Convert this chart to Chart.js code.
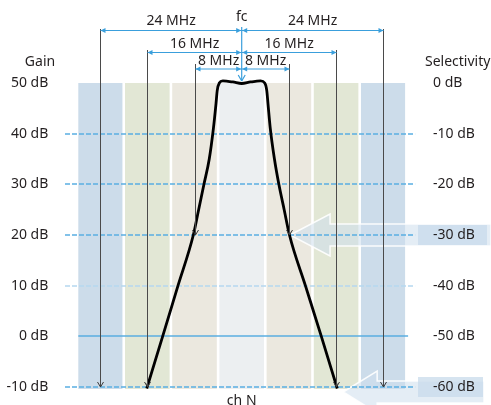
<!DOCTYPE html>
<html><head><meta charset="utf-8">
<script src="https://cdn.jsdelivr.net/npm/chart.js@4.4.0/dist/chart.umd.min.js"></script>
<style>html,body{margin:0;padding:0;background:#fff;}#wrap{width:491px;height:405px;}</style>
</head><body><div id="wrap"><canvas id="c" width="491" height="405"></canvas></div>
<script>
// ---- data ----
const curveMHz = [-16.1,-13.4,-10.8,-8.2,-7.3,-6.4,-5.5,-4.8,-4.35,-4.15,-3.8,-3.2,-1.5,0,1.5,3.2,3.9,4.25,4.45,4.85,5.55,6.3,7.2,8.1,10.8,13.5,16.2];
const curveDB  = [-10.3,0,10,20,25,30,35,41,46,48.5,50,50.4,50.2,49.9,50.2,50.4,50,48.5,46,41,35,30,25,20,10,0,-10.3];
const gainTicks = [50,40,30,20,10,0,-10];
const gainLabels = ['50 dB','40 dB','30 dB','20 dB','10 dB','0 dB','-10 dB'];
const selectivityLabels = ['0 dB','-10 dB','-20 dB','-30 dB','-40 dB','-50 dB','-60 dB'];
const bandEdgesMHz = [-27.7,-20,-12,-4,4,12,20,27.7];
const spanMHz = [24,16,8];
const spanLabels = ['24 MHz','16 MHz','8 MHz'];
const spanEndDB = [-10,-10,20];
const markedGainDB = [20,-10]; // = -30 dB and -60 dB selectivity

// ---- styles ----
const FONT = '"Noto Sans", sans-serif';
const TXT = '#231f20';
const BLUE = '#3a9fdc';
const bandColors = ['#ccdcea','#e2e7d5','#ebe8df','#eceff1','#ebe8df','#e2e7d5','#ccdcea'];
const dimLineY = [30.5, 52.5, 69];
const dimTextY = [21, 44, 61];
const dimTopY = [29, 50, 64];

function arrowHead(ctx, x, y, dx, dy, len, half, color){
  const n = Math.hypot(dx,dy); dx/=n; dy/=n;
  ctx.beginPath();
  ctx.moveTo(x,y);
  ctx.lineTo(x-dx*len - dy*half, y-dy*len + dx*half);
  ctx.moveTo(x,y);
  ctx.lineTo(x-dx*len + dy*half, y-dy*len - dx*half);
  ctx.strokeStyle = color; ctx.stroke();
}
function triHead(ctx, x, y, dx, dy, len, half, color){
  const n = Math.hypot(dx,dy); dx/=n; dy/=n;
  ctx.beginPath();
  ctx.moveTo(x,y);
  ctx.lineTo(x-dx*len - dy*half, y-dy*len + dx*half);
  ctx.lineTo(x-dx*len + dy*half, y-dy*len - dx*half);
  ctx.closePath(); ctx.fillStyle=color; ctx.fill();
}

const deco = {
  id:'deco',
  beforeDraw(chart){
    const {ctx, chartArea:a, scales:{x,y}} = chart;
    ctx.save();
    for (let i=0;i<bandColors.length;i++){
      let l = x.getPixelForValue(bandEdgesMHz[i]), r = x.getPixelForValue(bandEdgesMHz[i+1]);
      if(i>0) l+=1.3; if(i<bandColors.length-1) r-=1.3;
      ctx.fillStyle = bandColors[i];
      ctx.fillRect(l, a.top, r-l, a.bottom-a.top+2);
    }
    markedGainDB.forEach((g,i)=>{
      const cy = y.getPixelForValue(g) + (i===1?5:0);
      const tipX = i===0 ? x.getPixelForValue(8.2) : x.getPixelForValue(17.2);
      const baseX = tipX + (i===0?40:34);
      const endX = i===0 ? 491 : 484;
      ctx.beginPath();
      ctx.moveTo(tipX, cy);
      ctx.lineTo(baseX, cy-21);
      ctx.lineTo(baseX, cy-11);
      ctx.lineTo(endX, cy-11);
      ctx.lineTo(endX, cy+11);
      ctx.lineTo(baseX, cy+11);
      ctx.lineTo(baseX, cy+21);
      ctx.closePath();
      ctx.fillStyle='rgba(206,223,237,0.55)'; ctx.fill();
      ctx.strokeStyle='rgba(255,255,255,0.9)'; ctx.lineWidth=1.5; ctx.stroke();
      const by = y.getPixelForValue(g);
      ctx.fillStyle='rgba(200,219,235,0.75)';
      ctx.fillRect(418, by-10, (i===0?487:483)-418, 20);
    });
    ctx.restore();
  },
  beforeDatasetsDraw(chart){
    const {ctx, chartArea:a, scales:{y}} = chart;
    ctx.save();
    gainTicks.forEach(v=>{
      if (v===50) return;
      const py = Math.round(y.getPixelForValue(v));
      ctx.beginPath();
      ctx.lineWidth=1.3;
      if (v===0){
        ctx.setLineDash([]); ctx.strokeStyle='#5aaee0';
        ctx.moveTo(a.left,py); ctx.lineTo(a.right+3,py);
      } else {
        ctx.setLineDash([5,2]);
        ctx.strokeStyle = v===10 ? '#b5d8ef' : '#5aaee2';
        ctx.moveTo(65,py); ctx.lineTo(a.right+10,py);
      }
      ctx.stroke();
    });
    ctx.restore();
  },
  afterDraw(chart){
    const {ctx, chartArea:a, scales:{x,y}} = chart;
    ctx.save();
    ctx.lineWidth = 1;
    const xc = x.getPixelForValue(0);
    spanMHz.forEach((s,i)=>{
      const ly = dimLineY[i];
      [-1,1].forEach(side=>{
        const px = Math.round(x.getPixelForValue(side*s))+0.5;
        const endY = y.getPixelForValue(spanEndDB[i]);
        ctx.beginPath(); ctx.moveTo(px, dimTopY[i]); ctx.lineTo(px, endY);
        ctx.strokeStyle='#4a4a4a'; ctx.lineWidth=1; ctx.stroke();
        arrowHead(ctx, px, endY, 0, 1, 5, 3, '#3a3a3a');
        ctx.beginPath(); ctx.moveTo(px, ly); ctx.lineTo(xc, ly);
        ctx.strokeStyle=BLUE; ctx.stroke();
        triHead(ctx, px, ly, side, 0, 5, 2.5, BLUE);
        triHead(ctx, xc + side*0.5, ly, -side, 0, 5, 2.5, BLUE);
        ctx.fillStyle=TXT; ctx.font='14px '+FONT;
        ctx.textAlign='center'; ctx.textBaseline='middle';
        ctx.fillText(spanLabels[i], (px+xc)/2, dimTextY[i]);
      });
    });
    ctx.beginPath(); ctx.moveTo(xc, 27); ctx.lineTo(xc, 81);
    ctx.strokeStyle=BLUE; ctx.lineWidth=1.2; ctx.stroke();
    arrowHead(ctx, xc, 81, 0, 1, 6, 3.5, BLUE);
    ctx.fillStyle=TXT; ctx.font='14px '+FONT; ctx.textAlign='center'; ctx.textBaseline='middle';
    ctx.fillText('fc', xc, 17);
    ctx.fillText('Gain', 40, 62);
    ctx.textAlign='left';
    ctx.fillText('Selectivity', 425, 62);
    ctx.textAlign='center'; ctx.textBaseline='top';
    ctx.fillText('ch N', xc, 394);
    ctx.restore();
  }
};

new Chart(document.getElementById('c'), {
  type:'scatter',
  data:{ datasets:[{
    data: curveMHz.map((m,i)=>({x:m, y:curveDB[i]})),
    showLine:true, borderColor:'#000', borderWidth:2.8, pointRadius:0,
    cubicInterpolationMode:'monotone', fill:false, clip:false
  }]},
  options:{
    responsive:false, animation:false, devicePixelRatio:1,
    layout:{padding:{top:83, bottom:18, left:0, right:0}},
    plugins:{legend:{display:false}, tooltip:{enabled:false}},
    scales:{
      x:{type:'linear', min:-27.7, max:27.7, display:false},
      y:{type:'linear', position:'left', min:-10, max:50,
         grid:{display:false}, border:{display:false},
         ticks:{stepSize:10, padding:22, color:TXT, font:{family:FONT, size:14},
                callback:(v)=>gainLabels[gainTicks.indexOf(v)]},
         afterFit:(s)=>{s.width=78.3; s.paddingTop=0; s.paddingBottom=0;}},
      y2:{type:'linear', position:'right', min:-10, max:50,
         grid:{display:false}, border:{display:false},
         ticks:{stepSize:10, padding:20, color:TXT, font:{family:FONT, size:14},
                callback:(v)=>selectivityLabels[gainTicks.indexOf(v)]},
         afterFit:(s)=>{s.width=491-405.1; s.paddingTop=0; s.paddingBottom=0;}}
    }
  },
  plugins:[deco]
});
</script></body></html>
